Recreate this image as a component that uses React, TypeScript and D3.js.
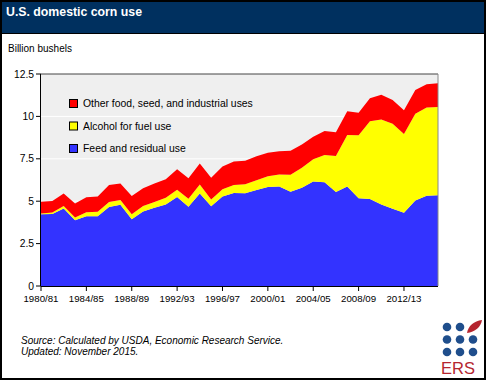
import React from "react";
import * as d3 from "d3";

const years: number[] = d3.range(1980, 2016);
const feed: number[] = [4.23, 4.25, 4.57, 3.88, 4.12, 4.11, 4.66, 4.79, 3.94, 4.39, 4.61, 4.80, 5.25, 4.68, 5.46, 4.70, 5.28, 5.48, 5.47, 5.66, 5.84, 5.86, 5.56, 5.80, 6.16, 6.12, 5.54, 5.86, 5.18, 5.13, 4.80, 4.56, 4.32, 5.04, 5.32, 5.35];
const alcohol: number[] = [0.04, 0.09, 0.14, 0.16, 0.23, 0.27, 0.29, 0.28, 0.29, 0.32, 0.35, 0.40, 0.43, 0.46, 0.53, 0.40, 0.43, 0.48, 0.53, 0.57, 0.63, 0.71, 1.00, 1.17, 1.32, 1.60, 2.12, 3.05, 3.71, 4.59, 5.02, 5.00, 4.64, 5.12, 5.20, 5.20];
const other: number[] = [0.70, 0.67, 0.75, 0.83, 0.88, 0.90, 1.00, 0.98, 1.08, 1.05, 1.09, 1.10, 1.20, 1.22, 1.24, 1.29, 1.33, 1.38, 1.39, 1.42, 1.39, 1.37, 1.42, 1.38, 1.32, 1.42, 1.40, 1.40, 1.32, 1.35, 1.45, 1.41, 1.40, 1.40, 1.38, 1.40];
const yTicks: number[] = [0, 2.5, 5, 7.5, 10, 12.5];
const xTickYears: number[] = [1980, 1984, 1988, 1992, 1996, 2000, 2004, 2008, 2012];
const legendItems = [
  { label: "Other food, seed, and industrial uses", key: "other", color: "#ff0000" },
  { label: "Alcohol for fuel use", key: "alcohol", color: "#ffff00" },
  { label: "Feed and residual use", key: "feed", color: "#3333ff" },
];
const seriesKeys = ["feed", "alcohol", "other"];
const colors: Record<string, string> = { feed: "#3333ff", alcohol: "#ffff00", other: "#ff0000" };

const W = 486, H = 380;
const left = 41, right = 438, top = 74, bottom = 286;
const FONT = "Liberation Sans, Arial, sans-serif";

function yearLabel(y: number) {
  return `${y}/${String((y + 1) % 100).padStart(2, "0")}`;
}

export default function App() {
  const table = years.map((y, i) => ({ year: y, feed: feed[i], alcohol: alcohol[i], other: other[i] }));
  const x = d3.scaleLinear().domain([1980, 2015]).range([left, right]);
  const y = d3.scaleLinear().domain([0, 12.5]).range([bottom, top]);
  const stack = d3.stack<any>().keys(seriesKeys)(table);
  const area = d3
    .area<any>()
    .x((d) => x(d.data.year))
    .y0((d) => y(d[0]))
    .y1((d) => y(d[1]));

  const dotX = [447, 460, 473];
  const dotY = [327, 339.5, 352];

  return (
    <svg width={W} height={H} style={{ position: "absolute", left: 0, top: 0 }} fontFamily={FONT}>
      <rect x={0} y={0} width={W} height={H} fill="#ffffff" />
      <rect x={1} y={1} width={W - 2} height={32} fill="#00305f" />
      <line x1={0} x2={W} y1={33.5} y2={33.5} stroke="#000" strokeWidth={1} />
      <text x={6} y={16} fill="#ffffff" fontSize={12.3} fontWeight="bold">U.S. domestic corn use</text>
      <text x={8} y={52} fill="#000" fontSize={10}>Billion bushels</text>

      <rect x={left} y={top} width={right - left} height={bottom - top} fill="#efefef" />
      {yTicks.slice(1, -1).map((t) => (
        <line key={t} x1={left} x2={right} y1={y(t)} y2={y(t)} stroke="#ffffff" strokeWidth={1} />
      ))}
      {stack.map((s) => (
        <path key={s.key} d={area(s) || ""} fill={colors[s.key]} />
      ))}
      <line x1={left} x2={right} y1={top} y2={top} stroke="#444" strokeWidth={1} />
      <line x1={right} x2={right} y1={top} y2={bottom} stroke="#888" strokeWidth={1} />
      <line x1={left - 0.5} x2={left - 0.5} y1={top} y2={bottom} stroke="#000" strokeWidth={1} />
      <line x1={left} x2={right} y1={bottom + 0.5} y2={bottom + 0.5} stroke="#000" strokeWidth={1} />

      {yTicks.map((t) => (
        <g key={t}>
          <line x1={left - 5} x2={left} y1={y(t)} y2={y(t)} stroke="#000" />
          <text x={left - 7} y={y(t) + 3.5} textAnchor="end" fontSize={10.3} fill="#000">{t}</text>
        </g>
      ))}
      {xTickYears.map((yr) => (
        <g key={yr}>
          <line x1={x(yr)} x2={x(yr)} y1={bottom} y2={bottom + 5} stroke="#000" />
          <text x={x(yr)} y={bottom + 15.5} textAnchor="middle" fontSize={9.7} fill="#000">{yearLabel(yr)}</text>
        </g>
      ))}

      {legendItems.map((it, i) => (
        <g key={it.key}>
          <rect x={69.5} y={99.5 + i * 22.5} width={8} height={8} fill={it.color} stroke="#000" strokeWidth={1} />
          <text x={83} y={107 + i * 22.5} fontSize={10.4} fill="#000">{it.label}</text>
        </g>
      ))}

      <text x={21} y={344} fontSize={10} fontStyle="italic" fill="#000">Source: Calculated by USDA, Economic Research Service.</text>
      <text x={21} y={355} fontSize={10} fontStyle="italic" fill="#000">Updated: November 2015.</text>

      {dotY.map((dy, r) =>
        dotX.map((dx, c) =>
          r === 0 && c === 2 ? null : <circle key={`${r}-${c}`} cx={dx} cy={dy} r={4.3} fill="#1f4e8c" />
        )
      )}
      <path d="M467,333 C468,326 474,321 482,320 C481,327 475,332 467,333 Z" fill="#b5252f" />
      <text x={441} y={374} fontSize={16.5} fill="#b5252f" fontWeight="normal">ERS</text>

      <rect x={1} y={1} width={W - 2} height={H - 2} fill="none" stroke="#000" strokeWidth={2} />
    </svg>
  );
}
